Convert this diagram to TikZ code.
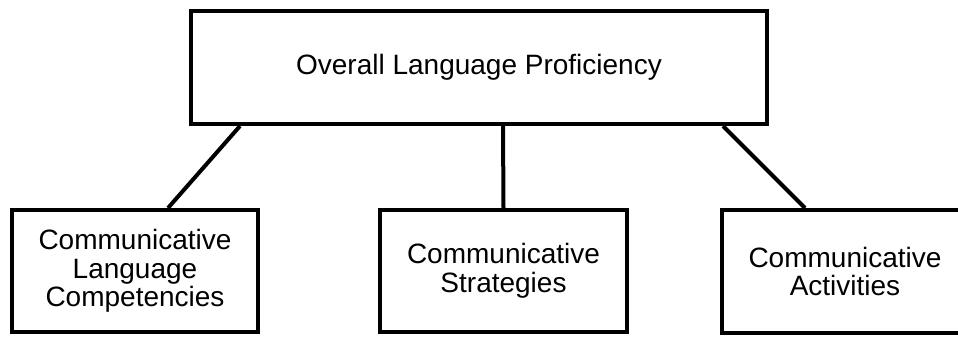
\documentclass[tikz,border=0pt]{standalone}
\usepackage{fontspec}
\setmainfont{Liberation Sans}
\begin{document}
\begin{tikzpicture}[
    x = 0.75pt, y = -0.75pt,
    box/.style = {
      rectangle, draw, line width = 3pt,
      align = center, inner sep = 0pt,
      font = \fontsize{21}{21.5}\selectfont
    },
    link/.style = {line width = 3pt}
  ]
  \useasboundingbox (0, 0) rectangle (958, 337);

  \draw node[box, minimum width = 432pt, minimum height = 84.75pt]
    (olp) at (479, 67.5) {Overall Language Proficiency};
  \draw node[box, minimum width = 184.5pt, minimum height = 91.5pt]
    (clc) at (135, 271) {Communicative\\Language\\Competencies};
  \draw node[box, minimum width = 185.25pt, minimum height = 91.5pt]
    (cs) at (503.5, 271) {Communicative\\Strategies};
  \draw node[box, minimum width = 184.5pt, minimum height = 92.25pt]
    (ca) at (845, 271.5) {Communicative\\Activities};

  \draw[link] ([xshift = -179.25pt]olp.south) -- ([xshift = 24.75pt]clc.north);
  \draw[link] ([xshift = 18pt]olp.south) -- (cs.north);
  \draw[link] ([xshift = 183pt]olp.south) -- ([xshift = -30pt]ca.north);

\end{tikzpicture}
\end{document}
